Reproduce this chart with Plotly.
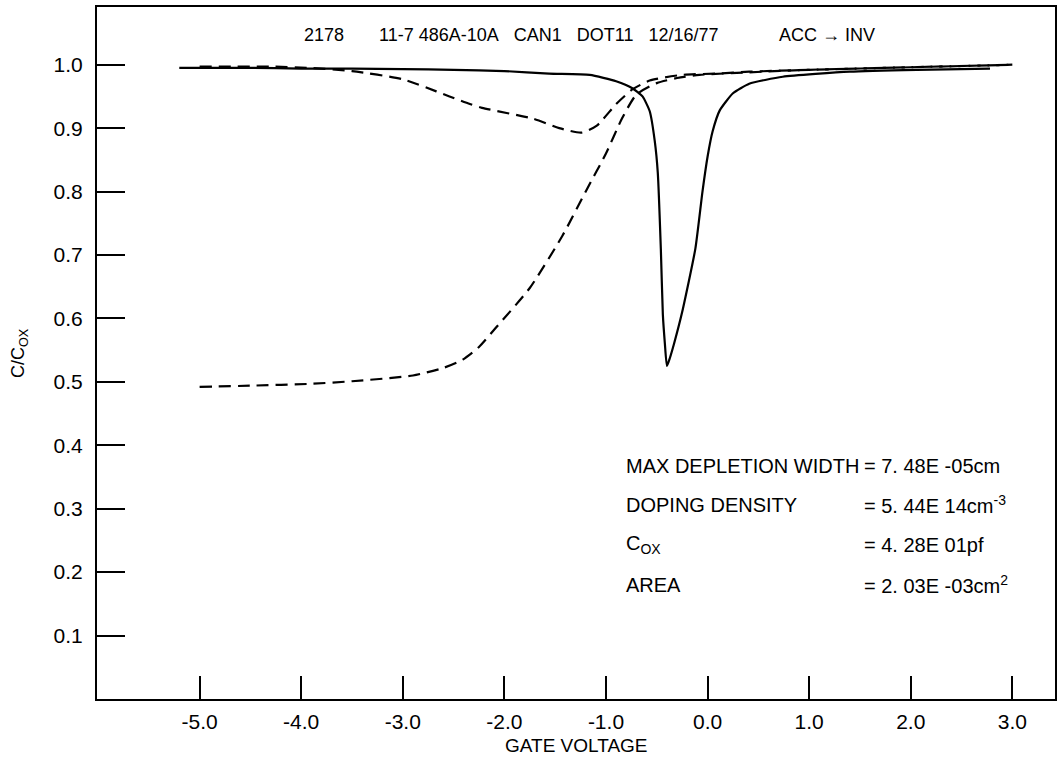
import plotly.graph_objects as go

# ---- data ----
solid_v = [-5.2, -4.5, -4.0, -3.5, -3.0, -2.5, -2.0, -1.56, -1.16, -0.9, -0.74, -0.64, -0.57,
           -0.52, -0.49, -0.46, -0.44, -0.42, -0.40, -0.37, -0.33, -0.25, -0.12, -0.05,
           0.0, 0.05, 0.12, 0.25, 0.41, 0.74, 1.4, 2.06, 2.78]
solid_c = [0.995, 0.995, 0.994, 0.994, 0.993, 0.992, 0.990, 0.986, 0.984, 0.974, 0.963, 0.950, 0.927,
           0.880, 0.830, 0.710, 0.606, 0.560, 0.525, 0.538, 0.560, 0.610, 0.710, 0.800,
           0.855, 0.895, 0.928, 0.955, 0.970, 0.981, 0.989, 0.992, 0.994]

hf_v = [-5.0, -4.5, -3.89, -3.5, -2.9, -2.6, -2.41, -2.25, -2.08, -1.75, -1.43, -1.19, -1.0,
        -0.84, -0.70, -0.5, -0.3, -0.08, 0.41, 1.0, 2.0, 3.0]
hf_c = [0.492, 0.494, 0.497, 0.501, 0.510, 0.522, 0.535, 0.555, 0.586, 0.648, 0.730, 0.803, 0.860,
        0.916, 0.953, 0.971, 0.979, 0.984, 0.988, 0.992, 0.996, 1.000]

qs_v = [-5.0, -4.3, -3.92, -3.5, -3.0, -2.67, -2.54, -2.34, -2.22, -1.72, -1.46, -1.24, -1.09,
        -0.9, -0.74, -0.57, -0.25, 0.09, 0.41, 1.0, 2.0, 3.0]
qs_c = [0.997, 0.997, 0.995, 0.990, 0.977, 0.958, 0.950, 0.938, 0.932, 0.915, 0.900, 0.893, 0.904,
        0.938, 0.961, 0.975, 0.984, 0.986, 0.989, 0.992, 0.996, 1.000]

x_ticks = [-5.0, -4.0, -3.0, -2.0, -1.0, 0.0, 1.0, 2.0, 3.0]
x_ticktext = ["-5.0", "-4.0", "-3.0", "-2.0", "-1.0", "0.0", "1.0", "2.0", "3.0"]
y_ticks = [0.1, 0.2, 0.3, 0.4, 0.5, 0.6, 0.7, 0.8, 0.9, 1.0]
y_ticktext = ["0.1", "0.2", "0.3", "0.4", "0.5", "0.6", "0.7", "0.8", "0.9", "1.0"]

info_labels = ["MAX DEPLETION WIDTH", "DOPING DENSITY", "C<sub>OX</sub>", "AREA"]
info_values = ["= 7. 48E -05cm", "= 5. 44E 14cm<sup>-3</sup>", "= 4. 28E 01pf", "= 2. 03E -03cm<sup>2</sup>"]
info_rows_y = [0.367, 0.306, 0.243, 0.180]

FONT = "Liberation Sans, Arial, sans-serif"

fig = go.Figure()
fig.add_trace(go.Scatter(x=solid_v, y=solid_c, mode="lines",
                         line=dict(color="black", width=2.2, shape="spline", smoothing=0.5)))
fig.add_trace(go.Scatter(x=hf_v, y=hf_c, mode="lines",
                         line=dict(color="black", width=2.2, dash="12px,7px", shape="spline", smoothing=0.6)))
fig.add_trace(go.Scatter(x=qs_v, y=qs_c, mode="lines",
                         line=dict(color="black", width=2.2, dash="12px,7px", shape="spline", smoothing=0.6)))

fig.update_layout(
    width=1063, height=761,
    margin=dict(l=97, r=8, t=5, b=62),
    paper_bgcolor="white", plot_bgcolor="white",
    showlegend=False,
    font=dict(family=FONT, color="black", size=20),
)
fig.update_xaxes(range=[-6.01, 3.42], tickmode="array", tickvals=x_ticks, ticktext=x_ticktext,
                 ticks="inside", ticklen=23, tickwidth=2, tickcolor="black",
                 showline=True, linecolor="black", linewidth=2, mirror=True,
                 showgrid=False, zeroline=False, tickfont=dict(size=21), ticklabelstandoff=3)
fig.update_yaxes(range=[0.0, 1.091], tickmode="array", tickvals=y_ticks, ticktext=y_ticktext,
                 ticks="inside", ticklen=28, tickwidth=2, tickcolor="black",
                 showline=True, linecolor="black", linewidth=2, mirror=True,
                 showgrid=False, zeroline=False, tickfont=dict(size=21), ticklabelstandoff=8)

# title pieces
fig.add_annotation(x=-3.99, y=1.047, xref="x", yref="y", text="2178", showarrow=False,
                   xanchor="left", yanchor="middle", font=dict(size=18))
fig.add_annotation(x=-3.25, y=1.047, xref="x", yref="y",
                   text="11-7 486A-10A\u00a0\u00a0\u00a0CAN1\u00a0\u00a0\u00a0DOT11\u00a0\u00a0\u00a012/16/77",
                   showarrow=False, xanchor="left", yanchor="middle", font=dict(size=18))
fig.add_annotation(x=0.68, y=1.047, xref="x", yref="y", text="ACC \u2192 INV", showarrow=False,
                   xanchor="left", yanchor="middle", font=dict(size=18))

# info block
for lab, val, yy in zip(info_labels, info_values, info_rows_y):
    fig.add_annotation(x=-0.82, y=yy, xref="x", yref="y", text=lab, showarrow=False,
                       xanchor="left", yanchor="middle", font=dict(size=20))
    fig.add_annotation(x=1.52, y=yy, xref="x", yref="y", text=val, showarrow=False,
                       xanchor="left", yanchor="middle", font=dict(size=20))

# axis titles
fig.add_annotation(x=0.5, y=0, xref="paper", yref="paper", text="GATE VOLTAGE", showarrow=False,
                   xanchor="center", yanchor="middle", yshift=-46, font=dict(size=19))
fig.add_annotation(x=0, y=0.5, xref="paper", yref="paper", text="C/C<sub>OX</sub>", showarrow=False,
                   textangle=-90, xanchor="center", yanchor="middle", xshift=-78, font=dict(size=18))

fig.write_html("out.html")
